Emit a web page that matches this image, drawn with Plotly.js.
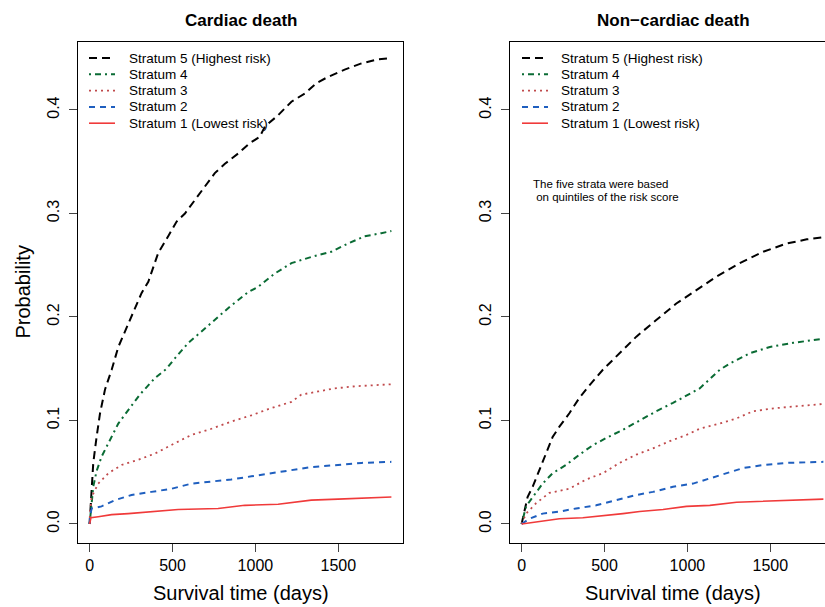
<!DOCTYPE html>
<html>
<head>
<meta charset="utf-8">
<script src="https://cdn.plot.ly/plotly-3.0.1.min.js"></script>
<style>
html,body{margin:0;padding:0;background:#fff;overflow:hidden;}
#wrap{width:825px;height:607px;overflow:hidden;}
#chart{width:850px;height:607px;}
</style>
</head>
<body>
<div id="wrap"><div id="chart"></div></div>
<script>
// ---- Data ----
const panelTitles = ["Cardiac death", "Non\u2212cardiac death"];
const strataNames = ["Stratum 5 (Highest risk)", "Stratum 4", "Stratum 3", "Stratum 2", "Stratum 1 (Lowest risk)"];
const xTicks = [0, 500, 1000, 1500];
const yTicks = [0, 0.1, 0.2, 0.3, 0.4];
const yTickText = ["0.0", "0.1", "0.2", "0.3", "0.4"];

// Cardiac death
const cardS5Days = [0,12,22,42,63,93,133,173,233,313,354,414,474,524,575,635,695,755,816,896,966,1026,1057,1137,1217,1298,1368,1438,1538,1639,1739,1820];
const cardS5Prob = [0,0.036,0.059,0.084,0.107,0.130,0.149,0.171,0.194,0.223,0.234,0.262,0.278,0.292,0.300,0.313,0.326,0.339,0.348,0.358,0.368,0.374,0.384,0.395,0.408,0.416,0.426,0.432,0.439,0.445,0.449,0.450];
const cardS4Days = [0,22,42,72,113,173,233,303,394,464,514,595,675,775,846,956,1016,1117,1217,1337,1458,1558,1659,1759,1820];
const cardS4Prob = [0,0.036,0.051,0.065,0.078,0.097,0.110,0.125,0.141,0.150,0.160,0.175,0.186,0.200,0.210,0.224,0.229,0.242,0.252,0.258,0.263,0.271,0.278,0.281,0.283];
const cardS3Days = [0,2,12,52,113,193,293,394,514,614,735,855,976,1096,1217,1277,1378,1478,1599,1699,1820];
const cardS3Prob = [0,0.010,0.026,0.039,0.049,0.057,0.062,0.068,0.078,0.086,0.092,0.099,0.105,0.112,0.118,0.125,0.128,0.131,0.133,0.134,0.135];
const cardS2Days = [0,2,12,72,153,253,373,494,614,735,855,976,1096,1237,1337,1498,1639,1820];
const cardS2Prob = [0,0.007,0.015,0.017,0.023,0.028,0.031,0.034,0.039,0.041,0.043,0.046,0.049,0.052,0.055,0.057,0.059,0.060];
const cardS1Days = [0,8,52,133,233,434,534,775,936,1137,1337,1498,1639,1820];
const cardS1Prob = [0,0.006,0.007,0.009,0.010,0.013,0.014,0.015,0.018,0.019,0.023,0.024,0.025,0.026];

// Non-cardiac death
const nonS5Days = [0,16,36,67,107,148,187,228,288,349,409,490,591,692,812,933,1054,1175,1316,1457,1599,1720,1820];
const nonS5Prob = [0,0.012,0.026,0.036,0.052,0.068,0.084,0.094,0.107,0.122,0.134,0.149,0.165,0.181,0.197,0.213,0.226,0.239,0.252,0.263,0.271,0.275,0.277];
const nonS4Days = [0,27,67,127,187,268,349,429,510,611,712,813,913,1014,1074,1135,1195,1256,1377,1497,1638,1820];
const nonS4Prob = [0,0.017,0.026,0.039,0.049,0.057,0.067,0.076,0.083,0.091,0.100,0.109,0.117,0.126,0.131,0.140,0.149,0.155,0.165,0.171,0.175,0.179];
const nonS3Days = [0,27,87,167,288,389,490,591,692,792,893,994,1074,1195,1296,1397,1538,1679,1820];
const nonS3Prob = [0,0.010,0.020,0.030,0.034,0.043,0.049,0.059,0.067,0.073,0.080,0.086,0.092,0.097,0.102,0.109,0.112,0.114,0.116];
const nonS2Days = [0,47,127,228,329,450,571,692,792,913,1034,1135,1236,1336,1457,1599,1820];
const nonS2Prob = [0,0.005,0.010,0.012,0.015,0.018,0.023,0.028,0.031,0.036,0.039,0.044,0.049,0.054,0.057,0.059,0.060];
const nonS1Days = [0,87,228,369,510,611,712,853,994,1135,1296,1457,1638,1820];
const nonS1Prob = [0,0.002,0.005,0.006,0.008,0.010,0.012,0.014,0.017,0.018,0.021,0.022,0.023,0.024];

const noteLines = ["The five strata were based", " on quintiles of the risk score"];

// ---- Styles ----
const styles = [
  {color:"#000000", width:2,   dash:"8px,5px"},
  {color:"#0a6b34", width:2,   dash:"2px,4px,6px,4px"},
  {color:"#c04a4c", width:1.8, dash:"2px,4px"},
  {color:"#1f5fbf", width:2,   dash:"6px,5px"},
  {color:"#f03a3a", width:1.6, dash:"solid"}
];

const cardDays = [cardS5Days, cardS4Days, cardS3Days, cardS2Days, cardS1Days];
const cardProb = [cardS5Prob, cardS4Prob, cardS3Prob, cardS2Prob, cardS1Prob];
const nonDays = [nonS5Days, nonS4Days, nonS3Days, nonS2Days, nonS1Days];
const nonProb = [nonS5Prob, nonS4Prob, nonS3Prob, nonS2Prob, nonS1Prob];

const traces = [];
for (let i = 0; i < 5; i++) {
  traces.push({x: cardDays[i], y: cardProb[i], type:"scatter", mode:"lines", name: strataNames[i],
    xaxis:"x", yaxis:"y", showlegend:false, line:{color:styles[i].color, width:styles[i].width, dash:styles[i].dash}});
}
for (let i = 0; i < 5; i++) {
  traces.push({x: nonDays[i], y: nonProb[i], type:"scatter", mode:"lines", name: strataNames[i],
    xaxis:"x2", yaxis:"y2", showlegend:false, line:{color:styles[i].color, width:styles[i].width, dash:styles[i].dash}});
}

const W = 850, H = 607;
const px = v => v / W;
const py = v => 1 - v / H;
const FONT = "Liberation Sans, Arial, Helvetica, sans-serif";

const yDomain = [py(543), py(42)];
const yRange = [-0.0184, 0.4657];
const xRange = [-70, 1890];

function xAxis(dom) {
  return {domain: dom, range: xRange, tickvals: xTicks, ticktext: xTicks.map(String),
    ticks:"outside", ticklen:8, tickwidth:1, tickcolor:"#444", showline:true, mirror:true,
    linecolor:"#000", linewidth:1, showgrid:false, zeroline:false, fixedrange:true,
    tickfont:{family:FONT, size:16, color:"#000"}};
}
function yAxis(anchor) {
  return {domain: yDomain, range: yRange, tickvals: yTicks, ticktext: yTickText, anchor: anchor,
    ticks:"outside", ticklen:8, tickwidth:1, tickcolor:"#444", showline:true, mirror:true,
    linecolor:"#000", linewidth:1, showgrid:false, zeroline:false, tickangle:-90, fixedrange:true,
    ticklabelstandoff:4,
    tickfont:{family:FONT, size:16, color:"#000"}};
}

const shapes = [];
const annotations = [];
const legendRows = [58, 74.3, 90.6, 106.9, 123.2];
const legendPanels = [{x0:89, x1:115, tx:127}, {x0:522, x1:548, tx:559}];
legendPanels.forEach(p => {
  for (let i = 0; i < 5; i++) {
    shapes.push({type:"line", xref:"paper", yref:"paper", x0:px(p.x0), x1:px(p.x1), y0:py(legendRows[i]), y1:py(legendRows[i]),
      line:{color:styles[i].color, width:styles[i].width, dash:styles[i].dash}});
    annotations.push({xref:"paper", yref:"paper", x:px(p.tx), y:py(legendRows[i]), xanchor:"left", yanchor:"middle",
      text: strataNames[i], showarrow:false, font:{family:FONT, size:13.5, color:"#000"}});
  }
});

// panel titles
annotations.push({xref:"paper", yref:"paper", x:px(240.5), y:py(21), xanchor:"center", yanchor:"middle",
  text:"<b>"+panelTitles[0]+"</b>", showarrow:false, font:{family:FONT, size:17, color:"#000"}});
annotations.push({xref:"paper", yref:"paper", x:px(673), y:py(21), xanchor:"center", yanchor:"middle",
  text:"<b>"+panelTitles[1]+"</b>", showarrow:false, font:{family:FONT, size:17, color:"#000"}});
// axis titles
annotations.push({xref:"paper", yref:"paper", x:px(240.5), y:py(593), xanchor:"center", yanchor:"middle",
  text:"Survival time (days)", showarrow:false, font:{family:FONT, size:20, color:"#000"}});
annotations.push({xref:"paper", yref:"paper", x:px(673), y:py(593), xanchor:"center", yanchor:"middle",
  text:"Survival time (days)", showarrow:false, font:{family:FONT, size:20, color:"#000"}});
annotations.push({xref:"paper", yref:"paper", x:px(22), y:py(292.5), xanchor:"center", yanchor:"middle", textangle:-90,
  text:"Probability", showarrow:false, font:{family:FONT, size:20, color:"#000"}});
// note
annotations.push({xref:"paper", yref:"paper", x:px(531), y:py(184.3), xanchor:"left", yanchor:"middle",
  text:noteLines[0], showarrow:false, font:{family:FONT, size:11.5, color:"#000"}});
annotations.push({xref:"paper", yref:"paper", x:px(531), y:py(197.3), xanchor:"left", yanchor:"middle",
  text:"&nbsp;"+noteLines[1].trim(), showarrow:false, font:{family:FONT, size:11.5, color:"#000"}});

const layout = {
  width: W, height: H,
  margin:{l:0, r:0, t:0, b:0},
  paper_bgcolor:"#fff", plot_bgcolor:"#fff",
  showlegend:false,
  xaxis: xAxis([px(78), px(403)]),
  yaxis: yAxis("x"),
  xaxis2: xAxis([px(510), px(835)]),
  yaxis2: yAxis("x2"),
  shapes: shapes,
  annotations: annotations,
  font:{family:FONT, color:"#000"}
};
layout.xaxis.anchor = "y";
layout.xaxis2.anchor = "y2";

Plotly.newPlot("chart", traces, layout, {displayModeBar:false, staticPlot:true});
</script>
</body>
</html>
